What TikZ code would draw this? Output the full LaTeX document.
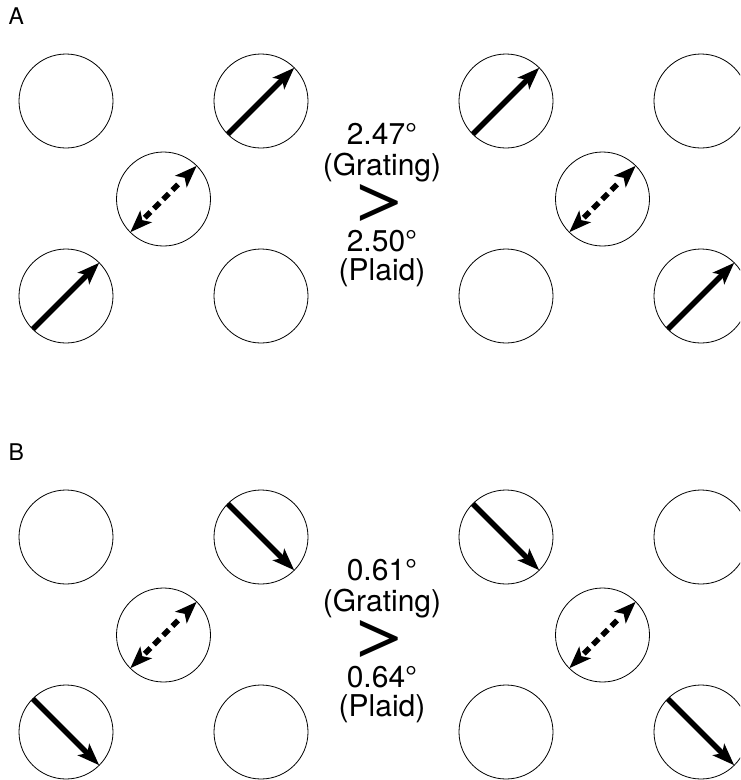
\documentclass[tikz,border=0pt]{standalone}
\usepackage{fontspec}
\setmainfont{TeX Gyre Heros}
\usetikzlibrary{arrows.meta}
\begin{document}
\begin{tikzpicture}[x=1pt,y=-1pt,
  circ/.style={circle, draw, line width=0.8pt, minimum size=94pt, inner sep=0pt, outer sep=0pt},
  solidarrow/.style={line width=5.4pt, -{Stealth[length=22pt,width=16pt,inset=5pt]}},
  dasharrow/.style={line width=5.4pt, {Stealth[length=22pt,width=16pt,inset=5pt]}-{Stealth[length=22pt,width=16pt,inset=5pt]},
     dash pattern=on 0pt off 5pt on 8pt off 5pt on 8pt off 5pt on 8pt off 5pt on 8pt off 80pt},
  valtext/.style={anchor=base, inner sep=0pt, font=\fontsize{30}{36}\selectfont},
  gttext/.style={inner sep=0pt},
  paneltext/.style={anchor=base west, inner sep=0pt, font=\fontsize{23}{26}\selectfont}]
\useasboundingbox (0,0) rectangle (740,780);
\clip (0,0) rectangle (740,780);

% ---------- Panel A ----------
\node[paneltext] (labA) at (8.5,24) {A};
\node[circ] (a1) at (66,101) {};
\node[circ] (a2) at (261,101) {};
\node[circ] (a3) at (506,101) {};
\node[circ] (a4) at (701,101) {};
\node[circ] (am1) at (163.5,199) {};
\node[circ] (am2) at (602.5,199) {};
\node[circ] (a5) at (66,296) {};
\node[circ] (a6) at (261,296) {};
\node[circ] (a7) at (506,296) {};
\node[circ] (a8) at (701,296) {};

\draw[solidarrow] (a2.225) -- (a2.45);
\draw[solidarrow] (a3.225) -- (a3.45);
\draw[solidarrow] (a5.225) -- (a5.45);
\draw[solidarrow] (a8.225) -- (a8.45);
\draw[dasharrow] (am1.225) -- (am1.45);
\draw[dasharrow] (am2.225) -- (am2.45);

\node[valtext] (aval1) at (382,144) {2.47°};
\node[valtext] (agr) at (382,175) {(Grating)};
\node[gttext] (agt) at (381,203) {\resizebox{66pt}{33pt}{>}};
\node[valtext] (aval2) at (382,251) {2.50°};
\node[valtext] (apl) at (382,280) {(Plaid)};

% ---------- Panel B ----------
\node[paneltext] (labB) at (8.5,460) {B};
\node[circ] (b1) at (66,537) {};
\node[circ] (b2) at (261,537) {};
\node[circ] (b3) at (506,537) {};
\node[circ] (b4) at (701,537) {};
\node[circ] (bm1) at (163.5,635) {};
\node[circ] (bm2) at (602.5,635) {};
\node[circ] (b5) at (66,732) {};
\node[circ] (b6) at (261,732) {};
\node[circ] (b7) at (506,732) {};
\node[circ] (b8) at (701,732) {};

\draw[solidarrow] (b2.135) -- (b2.315);
\draw[solidarrow] (b3.135) -- (b3.315);
\draw[solidarrow] (b5.135) -- (b5.315);
\draw[solidarrow] (b8.135) -- (b8.315);
\draw[dasharrow] (bm1.225) -- (bm1.45);
\draw[dasharrow] (bm2.225) -- (bm2.45);

\node[valtext] (bval1) at (382,580) {0.61°};
\node[valtext] (bgr) at (382,611) {(Grating)};
\node[gttext] (bgt) at (381,639) {\resizebox{66pt}{33pt}{>}};
\node[valtext] (bval2) at (382,687) {0.64°};
\node[valtext] (bpl) at (382,716) {(Plaid)};
\end{tikzpicture}
\end{document}
